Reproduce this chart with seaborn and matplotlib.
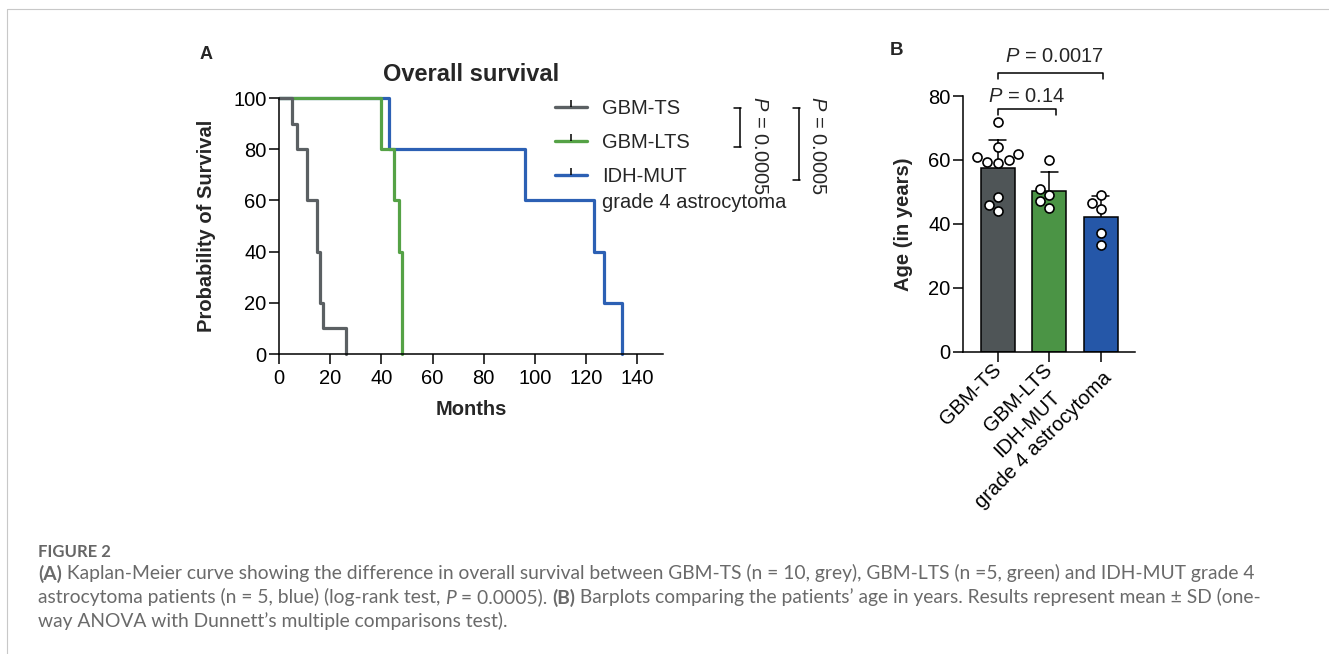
import matplotlib
matplotlib.use("Agg")
import matplotlib.pyplot as plt
from matplotlib.lines import Line2D
import seaborn as sns
import numpy as np
import pandas as pd

# ---- data ----
groups = ["GBM-TS", "GBM-LTS", "IDH-MUT"]
bar_tick_labels = ["GBM-TS", "GBM-LTS", "IDH-MUT\ngrade 4 astrocytoma"]
line_colors = ["#5b6063", "#55a246", "#2c60b4"]
bar_colors = ["#4f5557", "#4b9445", "#2557a8"]

# months at death, Kaplan-Meier (no censored patients)
ts_months = [5, 7, 11, 11, 15, 15, 16, 16, 17, 26]
lts_months = [40, 45, 47, 48, 48]
idh_months = [43, 96, 123, 127, 134]

# age at diagnosis (years)
ts_age = [72, 64, 62, 61, 60, 59.5, 59, 48.5, 46, 44]
lts_age = [60, 51, 49, 47, 45]
idh_age = [49, 46.5, 44.5, 37, 33.5]

km_pvals = ["0.0005", "0.0005"]
age_pvals = ["0.14", "0.0017"]

sns.set_style("ticks")
plt.rcParams["font.family"] = ["Liberation Sans", "DejaVu Sans"]
plt.rcParams["mathtext.fontset"] = "custom"
plt.rcParams["mathtext.rm"] = "Liberation Sans"
plt.rcParams["mathtext.it"] = "Liberation Sans:italic"
plt.rcParams["mathtext.bf"] = "Liberation Sans:bold"

W, H = 1329, 654
fig = plt.figure(figsize=(W / 100, H / 100), dpi=100)
fig.patch.set_facecolor("white")


def fx(px):
    return px / W


def fy(py):
    return 1 - py / H


def km_steps(times):
    times = np.sort(np.asarray(times, dtype=float))
    at_risk = len(times)
    surv = 1.0
    xs, ys = [0.0], [100.0]
    for t in np.unique(times):
        d = np.sum(times == t)
        surv *= 1 - d / at_risk
        at_risk -= d
        xs.append(t)
        ys.append(surv * 100)
    return xs, ys


rows = []
for g, t in zip(groups, [ts_months, lts_months, idh_months]):
    xs, ys = km_steps(t)
    rows += [{"group": g, "months": x, "survival": y} for x, y in zip(xs, ys)]
km_df = pd.DataFrame(rows)

age_df = pd.DataFrame({
    "group": [groups[0]] * len(ts_age) + [groups[1]] * len(lts_age) + [groups[2]] * len(idh_age),
    "age": ts_age + lts_age + idh_age,
})

FS = 14.5
LW = 1.1

# ---- panel A: Kaplan-Meier ----
axA = fig.add_axes([fx(279), fy(354), fx(663) - fx(279), fy(98) - fy(354)])
sns.lineplot(data=km_df, x="months", y="survival", hue="group",
             hue_order=groups[::-1], palette=dict(zip(groups, line_colors)),
             estimator=None, drawstyle="steps-post", linewidth=2.3,
             legend=False, ax=axA)
for ln in axA.lines:
    ln.set_clip_on(False)

axA.set_xlim(0, 150)
axA.set_ylim(0, 100)
axA.set_xticks(range(0, 141, 20))
axA.set_yticks(range(0, 101, 20))
sns.despine(ax=axA)
for s in ["left", "bottom"]:
    axA.spines[s].set_linewidth(LW)
    axA.spines[s].set_color("black")
axA.tick_params(length=7, width=LW, labelsize=FS, colors="black")
axA.tick_params(axis="y", pad=2)
axA.tick_params(axis="x", pad=4)
axA.set_title("Overall survival", fontsize=17, fontweight="bold", pad=12)
axA.set_xlabel("Months", fontsize=FS, fontweight="bold")
axA.set_ylabel("Probability of Survival", fontsize=FS, fontweight="bold")
axA.xaxis.set_label_coords(0.5, -0.18)
axA.yaxis.set_label_coords(-0.164, 0.5)

handles = [Line2D([], [], color=c, lw=2.4, marker=2, markersize=5,
                  markeredgecolor="black", markeredgewidth=1.1) for c in line_colors]
leg = axA.legend(handles, groups, loc="upper left",
                 bbox_to_anchor=(fx(555), fy(99)), bbox_transform=fig.transFigure,
                 frameon=False, fontsize=FS, handlelength=1.6, handletextpad=0.75,
                 labelspacing=0.75, borderpad=0, borderaxespad=0)

# log-rank brackets
def vbracket(x, y1, y2):
    for y in (y1, y2):
        fig.add_artist(Line2D([fx(x - 6), fx(x + 1)], [fy(y), fy(y)], color="black", lw=LW))
    fig.add_artist(Line2D([fx(x), fx(x)], [fy(y1), fy(y2)], color="black", lw=LW))


vbracket(740, 108, 147)
vbracket(799, 108, 180)
fig.text(fx(759), fy(145), r"$\it{P}$ = " + km_pvals[0], rotation=270,
         ha="center", va="center", fontsize=FS)
fig.text(fx(817), fy(145), r"$\it{P}$ = " + km_pvals[1], rotation=270,
         ha="center", va="center", fontsize=FS)

# ---- panel B: age barplot ----
axB = fig.add_axes([fx(963), fy(351.7), fx(1135) - fx(963), fy(96) - fy(351.7)])
sns.barplot(data=age_df, x="group", y="age", hue="group", order=groups,
            hue_order=groups, palette=dict(zip(groups, bar_colors)),
            errorbar="sd", capsize=0.33, width=0.66, saturation=1,
            err_kws={"color": "black", "linewidth": LW},
            edgecolor="black", linewidth=LW, legend=False, ax=axB)
for ln in axB.lines:
    ln.set_zorder(0.5)
sns.swarmplot(data=age_df, x="group", y="age", order=groups, color="white",
              edgecolor="black", linewidth=1.2, size=6.5, ax=axB, zorder=3)
for coll in axB.collections:
    coll.set_clip_on(False)

axB.set_xlim(-0.68, 2.67)
axB.set_ylim(0, 80)
axB.set_yticks(range(0, 81, 20))
sns.despine(ax=axB)
for s in ["left", "bottom"]:
    axB.spines[s].set_linewidth(LW)
    axB.spines[s].set_color("black")
axB.tick_params(length=7, width=LW, labelsize=FS, colors="black")
axB.tick_params(axis="y", pad=2)
axB.set_xticks(range(len(groups)))
axB.set_xticklabels(bar_tick_labels, rotation=45, ha="right", va="center",
                    rotation_mode="anchor", multialignment="center")
axB.tick_params(axis="x", pad=4)
axB.set_xlabel("")
axB.set_ylabel("Age (in years)", fontsize=FS, fontweight="bold")
axB.yaxis.set_label_coords(-0.29, 0.5)

# Dunnett brackets
for (x0, x1), y, p, xt, yt in [((0, 1.13), 75.8, age_pvals[0], 0.565, 78.2),
                               ((0, 2.05), 87.1, age_pvals[1], 1.1, 90.7)]:
    axB.plot([x0, x0, x1, x1], [y - 1.9, y, y, y - 1.9], color="black",
             lw=LW, clip_on=False)
    axB.text(xt, yt, r"$\it{P}$ = " + p, ha="center", va="baseline",
             fontsize=FS, clip_on=False)

# panel letters
fig.text(fx(200), fy(46), "A", fontsize=13, fontweight="bold", va="top")
fig.text(fx(890), fy(42), "B", fontsize=13.5, fontweight="bold", va="top")

# page border lines
fig.add_artist(Line2D([fx(7.3), 1], [fy(9.3), fy(9.3)], color="#c8c8c8", lw=0.8))
fig.add_artist(Line2D([fx(7.3), fx(7.3)], [fy(9.3), 0], color="#c8c8c8", lw=0.8))

# ---- legend continuation and caption (need a renderer) ----
fig.canvas.draw()
renderer = fig.canvas.get_renderer()
bb = leg.get_texts()[2].get_window_extent(renderer)
fig.text(bb.x0 / W, (bb.y1 - 26) / H, "grade 4 astrocytoma", fontsize=FS,
         ha="left", va="top")

cap_color = "#6a6a6a"
cap_family = ["Lato", "DejaVu Sans"]
style_map = {"normal": {"fontweight": "normal"},
             "bold": {"fontweight": "bold"},
             "italic": {"fontweight": "normal", "fontstyle": "italic"}}


def run_width(s, size, style):
    t = fig.text(0, 0, "." + s + ".", fontsize=size, family=cap_family, **style_map[style])
    t2 = fig.text(0, 0, "..", fontsize=size, family=cap_family, **style_map[style])
    w = t.get_window_extent(renderer).width - t2.get_window_extent(renderer).width
    t.remove()
    t2.remove()
    return w


def draw_line(runs, x_px, base_px, size):
    x = x_px
    for s, style in runs:
        fig.text(x / W, fy(base_px), s, fontsize=size, family=cap_family,
                 color=cap_color, va="baseline", ha="left", **style_map[style])
        x += run_width(s, size, style)
    return x - x_px


cap_lines = [
    [("(A)", "bold"), (" Kaplan-Meier curve showing the difference in overall survival between "
                        "GBM-TS (n = 10, grey), GBM-LTS (n =5, green) and IDH-MUT grade 4", "normal")],
    [("astrocytoma patients (n = 5, blue) (log-rank test, ", "normal"), ("P", "italic"),
     (" = 0.0005). ", "normal"), ("(B)", "bold"),
     (" Barplots comparing the patients\u2019 age in years. Results represent mean \u00b1 SD (one-", "normal")],
    [("way ANOVA with Dunnett\u2019s multiple comparisons test).", "normal")],
]

base_size = 12
w1 = sum(run_width(s, base_size, st) for s, st in cap_lines[0])
cap_size = base_size * 1215 / w1

fig.text(fx(38), fy(557), "FIGURE 2", fontsize=12, family=cap_family,
         fontweight="bold", color="#666666", va="baseline")
for runs, base in zip(cap_lines, [579.5, 603.5, 627.5]):
    draw_line(runs, 38, base, cap_size)

fig.savefig("out.png", dpi=100, facecolor="white")
